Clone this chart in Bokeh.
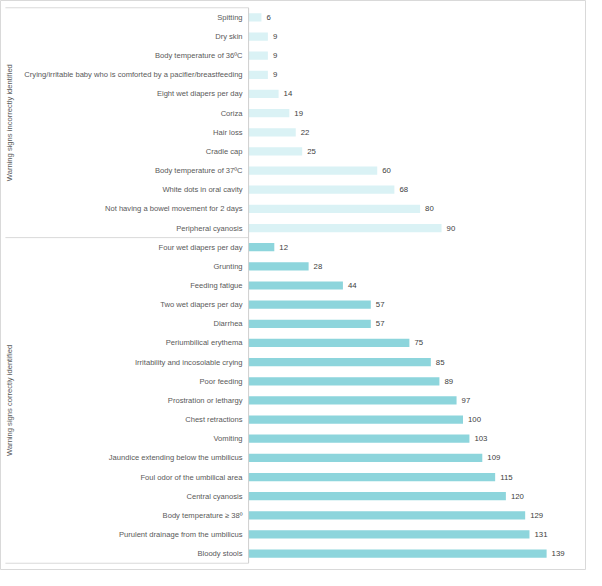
from bokeh.plotting import figure
from bokeh.models import Range1d, FactorRange, ColumnDataSource
from bokeh.core.properties import value
from bokeh.embed import file_html
from bokeh.resources import INLINE

# ---- data (top to bottom as in the chart) ----
group_names = ["Warning signs incorrectly identified", "Warning signs correctly identified"]

incorrect_labels = [
    "Spitting", "Dry skin", "Body temperature of 36ºC",
    "Crying/irritable baby who is comforted by a pacifier/breastfeeding",
    "Eight wet diapers per day", "Coriza", "Hair loss", "Cradle cap",
    "Body temperature of 37ºC", "White dots in oral cavity",
    "Not having a bowel movement for 2 days", "Peripheral cyanosis",
]
incorrect_values = [6, 9, 9, 9, 14, 19, 22, 25, 60, 68, 80, 90]

correct_labels = [
    "Four wet diapers per day", "Grunting", "Feeding fatigue",
    "Two wet diapers per day", "Diarrhea", "Periumbilical erythema",
    "Irritability and incosolable crying", "Poor feeding",
    "Prostration or lethargy", "Chest retractions", "Vomiting",
    "Jaundice extending below the umbilicus", "Foul odor of the umbilical area",
    "Central cyanosis", "Body temperature ≥ 38º",
    "Purulent drainage from the umbilicus", "Bloody stools",
]
correct_values = [12, 28, 44, 57, 57, 75, 85, 89, 97, 100, 103, 109, 115, 120, 129, 131, 139]

colors = ["#DAF2F5", "#8DD5DC"]
FONT = "Liberation Sans"

all_labels = incorrect_labels + correct_labels
factors = all_labels[::-1]

p = figure(
    width=586, height=570,
    y_range=FactorRange(factors=factors, range_padding=0.38, range_padding_units="absolute"),
    x_range=Range1d(-115.7, 157.6),
    output_backend="svg", toolbar_location=None,
    min_border=0, min_border_left=0, min_border_right=0, min_border_top=0, min_border_bottom=0,
)
p.outline_line_color = "#D9D9D9"
p.outline_line_width = 1
p.xgrid.visible = False
p.ygrid.visible = False
p.xaxis.visible = False
p.background_fill_color = "white"
p.border_fill_color = "white"

ax = p.yaxis[0]
ax.fixed_location = 0
ax.axis_line_color = None
ax.major_tick_line_color = None
ax.minor_tick_line_color = None
ax.major_tick_out = 0
ax.major_tick_in = 0
ax.minor_tick_out = 0
ax.major_label_text_font = FONT
ax.major_label_text_font_size = "7.6px"
ax.major_label_text_color = "#595959"
ax.major_label_standoff = 6

for labels, vals, col in [(incorrect_labels, incorrect_values, colors[0]),
                          (correct_labels, correct_values, colors[1])]:
    src = ColumnDataSource(dict(y=labels, v=vals, t=[str(v) for v in vals]))
    p.hbar(y="y", right="v", left=0, height=0.43, source=src,
           fill_color=col, line_color=None)
    p.text(x="v", y="y", text="t", source=src, x_offset=5,
           text_baseline="middle", text_align="left",
           text_font=value(FONT), text_font_size="7.8px", text_color="#404040")

# separators and axis line
xs = p.x_range.start
sep_y = [(incorrect_labels[0], 0.5), (incorrect_labels[-1], -0.5), (correct_labels[-1], -0.5)]
p.segment(x0=[xs + 2.3] * 3, x1=[0] * 3, y0=sep_y, y1=sep_y,
          line_color="#D9D9D9", line_width=1)
p.segment(x0=[0], x1=[0], y0=[(correct_labels[-1], -0.5)], y1=[(incorrect_labels[0], 0.5)],
          line_color="#CFCFCF", line_width=1)

# group labels
def center(group):
    n = len(group)
    return (group[n // 2], 0) if n % 2 else (group[n // 2 - 1], -0.5)

p.text(x=[xs, xs], y=[center(incorrect_labels), center(correct_labels)],
       text=group_names, angle=1.5708, x_offset=9,
       text_align="center", text_baseline="middle",
       text_font=value(FONT), text_font_size="7.6px", text_color="#595959")

open("out.html", "w").write(file_html(p, INLINE))
